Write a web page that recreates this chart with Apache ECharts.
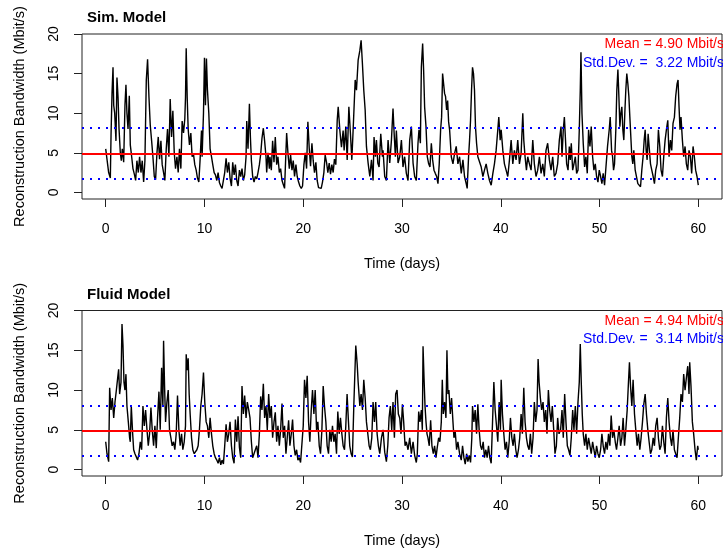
<!DOCTYPE html>
<html>
<head>
<meta charset="utf-8">
<script src="https://cdn.jsdelivr.net/npm/echarts@6/dist/echarts.min.js"></script>
<style>html,body{margin:0;padding:0;background:#fff}#chart{width:723px;height:553px}</style>
</head>
<body>
<div id="chart"></div>
<script>
// ---- data ----
const xTicks = [0, 10, 20, 30, 40, 50, 60];
const yTicks = [0, 5, 10, 15, 20];
const panelTitles = ['Sim. Model', 'Fluid Model'];
const meanVals = [4.90, 4.94];
const sdVals = [3.22, 3.14];

// [time (days), bandwidth (Mbit/s)]
const simPts = [[0,5.5],[0.3,2.5],[0.47,1.8],[0.54,7.2],[0.64,12.5],[0.74,15.8],[0.81,11],[0.91,10],[1.04,6.5],[1.14,14.5],[1.25,12],[1.35,8],[1.48,5],[1.58,4],[1.68,5.5],[1.82,3.8],[1.95,11],[2.05,13.6],[2.15,10],[2.26,8],[2.39,12.2],[2.49,6],[2.63,4.5],[2.76,3],[2.9,2.3],[3.03,1.5],[3.16,4],[3.3,2.5],[3.43,4.5],[3.57,2.5],[3.7,4],[3.84,1.3],[3.97,4],[4.11,14.2],[4.24,16.8],[4.38,12],[4.51,8.5],[4.65,6.5],[4.78,4.5],[4.92,2],[5.05,1.6],[5.19,5],[5.32,7],[5.45,4.2],[5.59,6.5],[5.72,3.5],[5.86,2.5],[5.99,1.5],[6.13,5.5],[6.26,8],[6.4,4.5],[6.53,11.8],[6.67,7],[6.8,10.3],[6.94,5],[7.07,3],[7.21,4.5],[7.34,2.5],[7.47,5.5],[7.61,3],[7.74,9],[7.88,7.5],[8.01,9.3],[8.08,12],[8.15,18.2],[8.25,12],[8.35,8],[8.48,6],[8.62,7.5],[8.75,4.5],[8.89,4.8],[9.02,3.5],[9.16,2.8],[9.29,1.8],[9.43,1.3],[9.56,4.2],[9.7,7.8],[9.76,4.5],[9.9,10],[10.0,17],[10.1,11],[10.2,16.9],[10.3,13],[10.44,10],[10.57,5.5],[10.71,4.5],[10.84,3.5],[10.98,2.5],[11.11,2.2],[11.25,1.5],[11.38,2.5],[11.52,1.2],[11.65,0.8],[11.78,0.5],[11.92,0.4],[12.05,2.5],[12.19,4.3],[12.32,2.5],[12.46,3.8],[12.59,1.8],[12.73,0.8],[12.86,3.8],[13.0,2.2],[13.13,3.5],[13.27,1.5],[13.4,0.8],[13.54,2.8],[13.67,2],[13.8,3],[13.94,1.5],[14.07,2.2],[14.21,4.5],[14.28,9],[14.41,5.5],[14.55,11.2],[14.65,7],[14.75,4],[14.88,2],[15.02,1.3],[15.15,2],[15.29,1.7],[15.42,2.5],[15.56,3.5],[15.69,4.8],[15.82,6.8],[15.96,8.1],[16.09,6.5],[16.23,4.5],[16.3,2.5],[16.43,5],[16.57,3],[16.63,4.5],[16.77,2.8],[16.9,6.5],[17.04,3.8],[17.17,7],[17.31,3.5],[17.44,4.5],[17.58,2.5],[17.71,3],[17.85,1.5],[17.98,1],[18.11,0.5],[18.25,0.3],[18.32,7.5],[18.45,5],[18.59,3],[18.72,4.7],[18.86,2.8],[18.99,4],[19.12,2],[19.26,3.5],[19.39,2],[19.53,1.3],[19.66,0.8],[19.8,0.5],[19.93,0.8],[20.07,3.5],[20.2,5],[20.34,3],[20.47,8.9],[20.61,5.5],[20.74,3.3],[20.88,6.2],[21.01,4],[21.14,2.5],[21.28,3.8],[21.41,1.5],[21.55,0.6],[21.68,0.4],[21.82,0.5],[21.95,1.3],[22.09,2.5],[22.22,4.7],[22.36,3.8],[22.49,2.5],[22.63,3.7],[22.76,2.3],[22.9,3.5],[23.03,2.5],[23.16,4.2],[23.3,3.5],
[23.44,9.1],[23.54,10.8],[23.71,7.8],[23.87,5.7],[24.04,7.8],[24.14,5.3],[24.31,8.3],[24.45,4.1],[24.62,10.8],[24.78,7.4],[24.92,4.1],[25.05,7.8],[25.26,14.2],[25.39,12.9],[25.56,16.7],[25.73,17.9],[25.86,19.2],[25.99,16.3],[26.13,12.9],[26.27,10.4],[26.4,5.8],[26.57,3.7],[26.74,2],[26.91,4.1],[27.07,1.5],[27.17,7],[27.31,4.5],[27.41,6.6],[27.55,3.7],[27.68,3.2],[27.85,7.4],[28.02,4.5],[28.08,5.3],[28.25,2],[28.42,1.5],[28.59,6.6],[28.76,3.7],[28.93,6.6],[29.09,10.6],[29.19,7.8],[29.33,4.5],[29.43,7.8],[29.6,3.7],[29.77,4.5],[29.94,6.6],[30.1,3.2],
[30.27,4.5],[30.44,2.4],[30.61,1.5],[30.78,6.6],[30.95,8.3],[31.12,3.7],[31.28,2],[31.45,1.5],[31.62,6.2],[31.72,7.9],[31.86,6.2],[31.96,15.8],[32.09,18.8],[32.19,15.4],[32.29,10.8],[32.43,8.3],[32.56,4.5],[32.7,3.6],[32.83,3.2],[32.97,6.2],[33.1,4.1],[33.24,2.8],[33.37,2.4],[33.51,2],[33.64,1.1],[33.77,3.6],[33.91,7.9],[34.01,9.5],[34.11,15],[34.21,14.8],[34.31,12.5],[34.41,12.1],[34.52,10.4],[34.62,11.6],[34.72,8.9],[34.82,7.9],[34.99,4.5],[35.16,3.6],[35.32,4.9],[35.49,5.8],[35.66,3.6],[35.83,4.5],[36,2.4],[36.17,4.1],[36.33,2],[36.5,1.1],[36.6,0.5],[36.74,4.5],[36.84,6.6],[36.94,9.1],[37.04,12.9],[37.14,15.8],[37.24,15],[37.34,12.9],[37.44,8.3],[37.55,6.2],[37.68,4.5],[37.85,4.5],[38.02,3.2],[38.19,2],[38.35,2.8],[38.52,3.6],[38.69,2.4],[38.86,1.5],[39.03,0.9],[39.2,2.4],[39.36,3.6],[39.53,5.3],[39.7,7.9],[39.8,9.5],[39.94,6.6],[40.04,7.9],[40.21,5.3],[40.37,3.6],[40.54,2.8],[40.71,2],[40.88,4.1],[41.05,6.6],[41.22,3.6],[41.38,5.3],[41.55,4.1],[41.72,6.6],[41.89,3.6],[42.06,4.9],[42.23,10],[42.33,6.6],[42.46,4.5],[42.6,2.8],[42.73,4.5],[42.9,3.6],[43.07,2.8],[43.24,6.6],[43.4,3.6],[43.57,2],[43.74,2.8],[43.91,4.5],[44.08,2.4],[44.25,3.6],[44.41,2],[44.58,5.3],[44.75,6.2],[44.92,4.1],[45.09,2.8],[45.26,4.5],[45.42,2],[45.59,2.4],[45.76,3.6],
[45.93,6.6],[46.1,8.3],[46.2,4.5],[46.33,7.9],[46.44,9.5],[46.54,7],[46.67,3.6],[46.81,2.8],[46.94,5.8],[47.04,4.1],[47.14,6.2],[47.28,2.8],[47.41,3.6],[47.55,4.5],[47.68,2.4],[47.82,2.8],[47.95,7.9],[48.05,12.9],[48.12,17.7],[48.22,10],[48.35,6.2],[48.49,3.2],[48.62,4.5],[48.76,2.4],[48.89,7.9],[49.03,5.8],[49.16,8.3],[49.3,4.5],[49.43,2.8],[49.57,3.6],[49.7,2],[49.84,1.3],[49.97,2.8],[50.11,2],[50.24,1.1],[50.37,2.4],[50.51,0.9],[50.64,0.7],[50.81,5.8],[50.98,7.9],[51.08,9.5],[51.22,5.3],[51.32,4.5],[51.42,2.8],[51.52,3.6],[51.65,7.9],[51.75,12.9],[51.86,15.5],[51.96,12.1],[52.06,8.3],[52.16,10],[52.26,10.8],[52.36,7.9],[52.46,6.6],[52.56,10],[52.66,12.9],[52.76,15],[52.87,13.7],[52.97,12.1],[53.07,9.5],[53.17,7],[53.27,4.5],[53.37,3.6],[53.47,5.3],[53.61,2.8],[53.74,2],[53.88,1.1],[54.01,0.9],[54.15,0.7],[54.28,2.8],[54.41,4.5],[54.52,6.6],[54.62,7.9],[54.72,5.3],[54.82,4.1],[54.92,7.4],[55.02,5.8],[55.16,3.6],[55.29,2.8],[55.43,2],[55.56,1.1],[55.69,2.8],[55.83,3.6],[55.96,7.9],[56.1,5.8],[56.23,2.8],[56.37,2],[56.5,4.5],[56.64,6.6],[56.77,7.9],[56.91,9.1],[57.04,4.5],[57.18,6.6],[57.31,5.3],[57.44,8.7],[57.58,9.5],[57.71,12.1],[57.85,13.7],[57.95,14.2],[58.05,10.8],[58.15,7.9],[58.25,9.5],[58.39,6.6],[58.52,4.5],[58.66,5.8],[58.79,3.6],[58.93,2.8],[59.06,5.3],[59.2,4.5],[59.33,2.4],[59.47,5.8],[59.6,4.5],[59.73,2.8],[59.87,2],[60,0.9]];

const fluidPts = [[0,3.5],[0.13,2],[0.3,1],[0.4,10.3],[0.54,7.5],[0.67,9],[0.81,6.5],[0.94,8.5],[1.08,10],[1.21,11.5],[1.31,12.6],[1.41,9.5],[1.55,11],[1.65,18.3],[1.75,15.6],[1.85,11],[1.95,10],[2.05,12],[2.15,8],[2.29,6],[2.42,4],[2.49,3.5],[2.59,8],[2.73,4.5],[2.83,2.5],[2.96,2],[3.1,1.6],[3.23,1.2],[3.37,2],[3.5,3.5],[3.64,2.5],[3.77,8],[3.91,5.5],[4.04,7.5],[4.18,5],[4.31,3],[4.44,4.5],[4.58,7.8],[4.71,5],[4.85,3],[4.98,5.5],[5.12,2.7],[5.25,6.5],[5.39,9.8],[5.52,5],[5.66,12.8],[5.79,8],[5.86,16.2],[5.96,10.5],[6.06,6],[6.2,8.5],[6.33,10],[6.46,5],[6.6,4],[6.73,3],[6.87,3.5],[7,2.5],[7.14,4.5],[7.27,9.3],[7.41,5],[7.54,3],[7.68,4.5],[7.81,2.5],[7.95,3.5],[8.08,5.5],[8.15,14.5],[8.25,12.5],[8.35,14],[8.45,9.5],[8.55,7],[8.69,4],[8.82,2.5],[8.96,2],[9.09,2.2],[9.23,2.5],[9.36,3],[9.49,5],[9.63,8],[9.76,9.5],[9.9,12.2],[10.03,8.5],[10.17,6],[10.3,5.5],[10.44,4],[10.57,6.5],[10.71,4.5],[10.84,3],[10.98,2],[11.11,1.5],[11.25,1.2],[11.38,0.8],[11.52,1.5],[11.65,0.6],[11.78,1.2],[11.92,0.7],[12.05,3],[12.19,5.7],[12.32,3.5],[12.46,4.5],[12.59,6],[12.73,3],[12.86,1.5],[13,0.8],[13.13,6.3],[13.27,3.5],[13.4,6.7],[13.54,2.8],[13.67,1.5],[13.8,10.5],[13.94,7],[14.07,9.3],[14.21,6.5],[14.34,8.5],[14.48,7.5],[14.61,6.5],[14.75,3.5],[14.88,1.5],[15.02,1.3],[15.15,2.5],[15.29,3],[15.42,1.5],[15.56,4.5],[15.69,9.2],[15.82,7.5],[15.96,10.8],[16.09,6.5],[16.23,8],[16.36,5],[16.5,9.5],[16.63,6.5],[16.77,8],[16.9,4],[17.04,6],[17.17,7.2],[17.31,3.5],[17.44,5.5],[17.58,3],[17.71,5],[17.85,8.3],[17.98,4],[18.11,5.5],[18.25,2],[18.38,4],[18.52,6.2],[18.65,3],[18.79,4.5],[18.92,6.3],[19.06,3],[19.19,1.8],[19.33,2.5],[19.46,1.2],[19.6,1.5],[19.73,0.9],[19.87,0.7],[20,5.5],[20.13,11.3],[20.27,9],[20.4,11.8],[20.54,6],[20.67,3.5],[20.81,7.5],[20.94,10],[21.08,7],[21.21,10],[21.35,5],[21.48,6],[21.62,3],[21.75,2],[21.89,5],[22.02,10.5],[22.15,8],[22.29,6],[22.42,3],[22.56,2],[22.69,5],[22.83,3.5],[22.96,5.5],[23.1,3.5],[23.23,4.5],[23.37,2],[23.5,7.3],[23.64,4.5],[23.77,6.5],[23.91,4.5],[24.04,3],[24.18,2.5],[24.31,5.5],[24.44,9.5],[24.58,6],[24.71,3],[24.85,2],[24.98,1.6],[25.12,8],
[25.32,15.6],[25.46,13.3],[25.56,11],[25.73,8],[25.86,9.5],[26,7.5],[26.13,11.3],[26.27,9],[26.4,6],[26.54,4.5],[26.67,3],[26.8,2.5],[26.94,4],[27.07,8.5],[27.21,6],[27.34,8.5],[27.48,4.5],[27.61,3],[27.75,2],[27.92,4],[28.08,5],[28.25,2.2],[28.42,1],[28.56,3],[28.69,6.5],[28.82,8],[28.96,5],[29.09,8.5],[29.23,4],[29.36,9.5],[29.5,10],[29.63,7],[29.77,6.5],[29.9,4.5],[30.04,8.2],[30.17,6],[30.31,3],
[30.44,3.5],[30.61,2.5],[30.78,4],[30.95,2],[31.12,3.5],[31.28,1.8],[31.45,0.9],[31.55,2],[31.69,7.3],[31.82,6],[31.96,7.5],[32.06,5],[32.13,15.5],[32.23,11.5],[32.33,8],[32.43,6],[32.53,4.5],[32.63,4],[32.76,3],[32.9,6.2],[33.03,3],[33.17,2],[33.3,3],[33.44,1.5],[33.57,2.8],[33.71,4],[33.84,3.5],[33.98,6],[34.08,11.3],[34.18,7],[34.31,8.5],[34.45,6.5],[34.55,15],[34.65,9.5],[34.75,10],[34.89,7],[35.02,9],[35.16,6],[35.26,4],[35.39,4.8],[35.53,2.5],[35.66,3.5],[35.83,2],[36,1.2],[36.13,3],[36.27,1.5],[36.4,0.7],[36.54,2],[36.67,1],[36.81,1.8],[36.94,0.9],[37.07,4],[37.14,8],[37.28,6],[37.41,7.5],[37.55,4.5],[37.68,8.2],[37.81,5],[37.95,3],[38.08,2.5],[38.22,3.5],[38.35,1.5],[38.49,2.5],[38.62,1.5],[38.76,3],[38.89,1.5],[39.03,0.8],[39.16,0.6],[39.3,11],[39.43,7.5],[39.57,5.5],[39.7,3.5],[39.84,8.5],[39.97,5],[40.04,11.3],[40.17,7],[40.31,4.5],[40.44,2.5],[40.58,3.5],[40.71,1.5],[40.85,3.5],[40.98,6.5],[41.12,4],[41.25,3],[41.38,4.5],[41.52,2.5],[41.65,1.5],[41.79,2.5],[41.92,4],[42.06,7],[42.19,4.5],[42.33,10.3],[42.46,6],[42.6,4],[42.73,3],[42.87,2.5],[43,4.5],[43.13,2],[43.27,4],[43.4,8.5],[43.54,6],[43.67,7.5],[43.78,13.9],[43.88,11],[44.01,9],[44.14,7.5],[44.28,8.5],[44.41,6],[44.55,7.5],[44.68,4.5],[44.82,10],[44.95,7.5],[45.09,6],[45.22,8],[45.36,5],[45.49,2],[45.63,3],[45.76,6.5],[45.9,4.5],
[46.06,5],[46.2,7.5],[46.33,4],[46.47,9.5],[46.6,6],[46.74,3],[46.87,2.5],[47.01,1.8],[47.14,4],[47.28,7.5],[47.41,5],[47.55,8],[47.68,4.5],[47.82,8.5],[47.95,11],[48.05,15.8],[48.15,11],[48.25,7],[48.35,4.5],[48.49,3],[48.62,4.5],[48.76,2.5],[48.89,4],[49.03,3],[49.16,2],[49.3,3.5],[49.43,2.5],[49.57,1.5],[49.7,3],[49.84,2],[49.97,1.5],[50.11,2.5],[50.24,4.5],[50.37,3],[50.51,2],[50.64,3.5],[50.78,2.5],[50.91,4.5],[51.05,3],[51.18,6.8],[51.32,4],[51.45,5],[51.59,3.5],[51.72,2.5],[51.86,4],[51.99,5.5],[52.13,3],[52.26,4],[52.39,6.5],[52.53,3],[52.66,5],[52.8,7.5],[52.93,11],[53.03,13.5],[53.14,10.5],[53.27,8],[53.4,11.3],[53.54,7],[53.67,5],[53.81,3],[53.94,4.5],[54.08,2.5],[54.21,4],[54.35,6],[54.48,8.2],[54.62,9.5],[54.75,7],[54.89,5],[55.02,3.5],[55.16,2],[55.29,2.5],[55.43,4],[55.56,3],[55.69,5.5],[55.83,6.5],[55.96,4],[56.1,2.5],[56.23,3],[56.37,5.5],[56.5,3.5],[56.64,2],[56.77,6.5],[56.91,9],[57.04,6],[57.18,4],[57.31,3],[57.44,5],[57.58,2.5],[57.71,2],[57.85,1.5],[57.98,4],[58.12,6.5],[58.25,9.5],[58.39,8.5],[58.52,12],[58.66,10],[58.79,11.5],[58.93,13],[59.06,9.5],[59.13,13.5],[59.26,10.5],[59.4,6],[59.53,4.5],[59.67,2.5],[59.8,1.2],[59.94,3],[60,2.5]];

const seriesPts = [simPts, fluidPts];

// ---- chart ----
const FONT = '"Liberation Sans", Arial, Helvetica, sans-serif';
const chart = echarts.init(document.getElementById('chart'), null, {renderer: 'canvas'});
const grids = [
  {left: 82, right: 1, top: 34, height: 165},
  {left: 82, right: 1, top: 310.5, height: 165.5}
];
const yMins = [-0.84, -0.8];

const option = {
  animation: false,
  backgroundColor: '#fff',
  title: panelTitles.map((t, i) => ({
    text: t, left: 82, top: i === 0 ? 5 : 282,
    textStyle: {fontSize: 15, fontWeight: 'bold', color: '#000', fontFamily: FONT}
  })),
  grid: grids.map(g => Object.assign({show: true, borderColor: '#222', borderWidth: 1,
    containLabel: false, outerBoundsMode: 'none'}, g)),
  xAxis: [0, 1].map(i => ({
    type: 'value', gridIndex: i, min: -2.4, max: 62.4, position: 'bottom',
    name: 'Time (days)', nameLocation: 'middle', nameGap: 57,
    nameTextStyle: {fontSize: 14.5, color: '#000', fontFamily: FONT},
    axisLine: {show: false, onZero: false},
    axisTick: {show: true, length: 8, customValues: xTicks, lineStyle: {color: '#222'}},
    axisLabel: {customValues: xTicks, margin: 23, fontSize: 14, color: '#000', fontFamily: FONT},
    splitLine: {show: false}
  })),
  yAxis: [0, 1].map(i => ({
    type: 'value', gridIndex: i, min: yMins[i], max: 20, position: 'left',
    name: 'Reconstruction Bandwidth (Mbit/s)', nameLocation: 'middle', nameGap: 55,
    nameTextStyle: {fontSize: 14.5, color: '#000', fontFamily: FONT},
    axisLine: {show: false, onZero: false},
    axisTick: {show: true, length: 8, customValues: yTicks, lineStyle: {color: '#222'}},
    axisLabel: {customValues: yTicks, rotate: 90, margin: 21, fontSize: 14, color: '#000', fontFamily: FONT},
    splitLine: {show: false}
  })),
  series: [0, 1].map(i => ({
    type: 'line', xAxisIndex: i, yAxisIndex: i, smooth: false,
    data: seriesPts[i], showSymbol: false, symbol: 'none',
    lineStyle: {color: '#000', width: 1.4},
    silent: true,
    markLine: {
      silent: true, symbol: ['none', 'none'], label: {show: false},
      data: [
        {yAxis: meanVals[i] + sdVals[i], lineStyle: {color: '#0000ff', width: 2, type: [2, 6]}},
        {yAxis: meanVals[i] - sdVals[i], lineStyle: {color: '#0000ff', width: 2, type: [2, 6]}},
        {yAxis: meanVals[i], lineStyle: {color: '#ff0000', width: 2, type: 'solid'}}
      ]
    }
  })),
  graphic: [0, 1].flatMap(i => [
    {type: 'text', x: 724, y: i === 0 ? 44.3 : 321,
     style: {text: 'Mean = ' + meanVals[i].toFixed(2) + ' Mbit/s', fill: '#ff0000',
       font: '14px ' + FONT, align: 'right', verticalAlign: 'middle'}},
    {type: 'text', x: 724, y: i === 0 ? 62.8 : 339.5,
     style: {text: 'Std.Dev. =  ' + sdVals[i].toFixed(2) + ' Mbit/s', fill: '#0000ff',
       font: '14px ' + FONT, align: 'right', verticalAlign: 'middle'}}
  ])
};
chart.setOption(option);
</script>
</body>
</html>
